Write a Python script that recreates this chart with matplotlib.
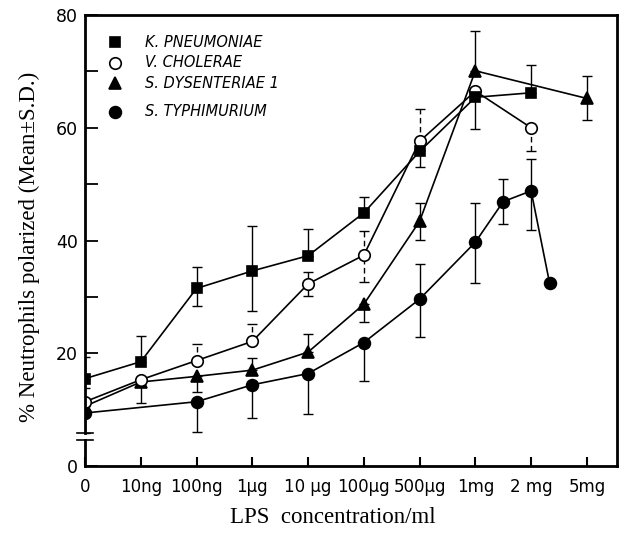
import numpy as np
import matplotlib
matplotlib.use('Agg')
import matplotlib.pyplot as plt

# x categories (index positions on the axis)
x_labels = ['0', '10ng', '100ng', '1µg', '10 µg', '100µg', '500µg', '1mg', '2 mg', '5mg']

# K. pneumoniae
kp_x = [0, 1, 2, 3, 4, 5, 6, 7, 8]
kp_y = [15.5, 18.5, 31.5, 34.6, 37.3, 44.9, 55.8, 65.4, 66.2]
kp_lo = [0, 0, 3.2, 7.1, 0, 0, 2.7, 5.7, 0]
kp_hi = [3.8, 4.5, 3.8, 7.9, 4.7, 2.9, 0, 0, 5.0]

# V. cholerae
vc_x = [0, 1, 2, 3, 4, 5, 6, 7, 8]
vc_y = [11.4, 15.3, 18.7, 22.1, 32.3, 37.4, 57.6, 66.5, 60.0]
vc_lo = [0, 0, 0, 0, 2.1, 4.7, 0, 0, 4.1]
vc_hi = [2.4, 0, 2.9, 3.1, 2.2, 4.3, 5.7, 0, 0]

# S. dysenteriae 1
sd_x = [0, 1, 2, 3, 4, 5, 6, 7, 9]
sd_y = [10.6, 14.9, 15.9, 17.0, 20.2, 28.7, 43.4, 70.1, 65.2]
sd_lo = [0, 3.8, 2.7, 0, 0, 3.2, 3.3, 0, 3.9]
sd_hi = [0, 0, 0, 2.2, 3.2, 0, 3.2, 7.1, 4.0]

# S. typhimurium
st_x = [0, 2, 3, 4, 5, 6, 7, 7.5, 8, 8.33]
st_y = [9.4, 11.4, 14.4, 16.4, 21.9, 29.6, 39.7, 46.9, 48.8, 32.5]
st_lo = [3.6, 5.3, 5.8, 7.2, 6.8, 6.7, 7.2, 4.0, 6.9, 0]
st_hi = [0, 0, 0, 0, 0, 6.3, 6.9, 4.0, 5.7, 0]

legend_names = ['K. PNEUMONIAE', 'V. CHOLERAE', 'S. DYSENTERIAE 1', 'S. TYPHIMURIUM']

fig = plt.figure(figsize=(6.24, 5.36), dpi=100)
ax = fig.add_axes([85/624, 70/536, 532/624, 451/536])

series = [
    (st_x, st_y, st_lo, st_hi, 'o', 'k', 8.5, '-'),
    (sd_x, sd_y, sd_lo, sd_hi, '^', 'k', 9, '-'),
    (vc_x, vc_y, vc_lo, vc_hi, 'o', 'white', 8.3, '--'),
    (kp_x, kp_y, kp_lo, kp_hi, 's', 'k', 7.6, '-'),
]
for x, y, lo, hi, m, fc, ms, es in series:
    eb = ax.errorbar(x, y, yerr=[lo, hi], fmt='none', ecolor='k', elinewidth=1.0,
                     capsize=3.6, capthick=1.0, zorder=2)
    if es == '--':
        eb[2][0].set_linestyle((0, (4, 2.5)))
    ax.plot(x, y, color='k', lw=1.2, marker=m, ms=ms, mfc=fc, mec='k', mew=1.2, zorder=3)

# legend drawn by hand to keep the uneven row spacing
leg_rows = [0.940, 0.894, 0.849, 0.785]
leg_style = [('s', 'k', 7.6), ('o', 'white', 8.3), ('^', 'k', 9), ('o', 'k', 8.5)]
for name, ry, (m, fc, ms) in zip(legend_names, leg_rows, leg_style):
    ax.plot([0.0564], [ry], transform=ax.transAxes, marker=m, ms=ms, mfc=fc,
            mec='k', mew=1.2, ls='none', clip_on=False)
    ax.text(0.1128, ry, name, transform=ax.transAxes, fontsize=10.5, style='italic',
            va='center', ha='left', family='DejaVu Sans')

ax.set_xlim(0, 9.54)
ax.set_ylim(0, 80)
ax.set_xticks(range(len(x_labels)))
ax.set_xticklabels(x_labels)
ax.set_yticks([0, 20, 40, 60, 80])
ax.set_yticks([30, 50, 70], minor=True)
ax.tick_params(axis='x', direction='in', length=6.5, width=1.5, pad=9, labelsize=12)
ax.tick_params(axis='y', which='both', direction='in', length=9.5, width=1.3, pad=5,
               labelsize=12.5)

for s in ['top', 'right', 'bottom']:
    ax.spines[s].set_linewidth(2)
ax.spines['left'].set_visible(False)

# broken left axis
ax.plot([0, 0], [0, 4.6], color='k', lw=2, clip_on=False, zorder=4)
ax.plot([0, 0], [5.8, 80], color='k', lw=2, clip_on=False, zorder=4)
for yb in [4.6, 5.8]:
    ax.plot([-0.15, 0.15], [yb, yb], color='k', lw=1.2, clip_on=False, zorder=4)

ax.set_xlabel('LPS  concentration/ml', family='Liberation Serif', fontsize=16.5)
ax.xaxis.set_label_coords(0.466, -0.092)
ax.set_ylabel('% Neutrophils polarized (Mean±S.D.)', family='Liberation Serif',
              fontsize=16.5)
ax.yaxis.set_label_coords(-0.085, 0.486)

plt.savefig('out.png', dpi=100)
